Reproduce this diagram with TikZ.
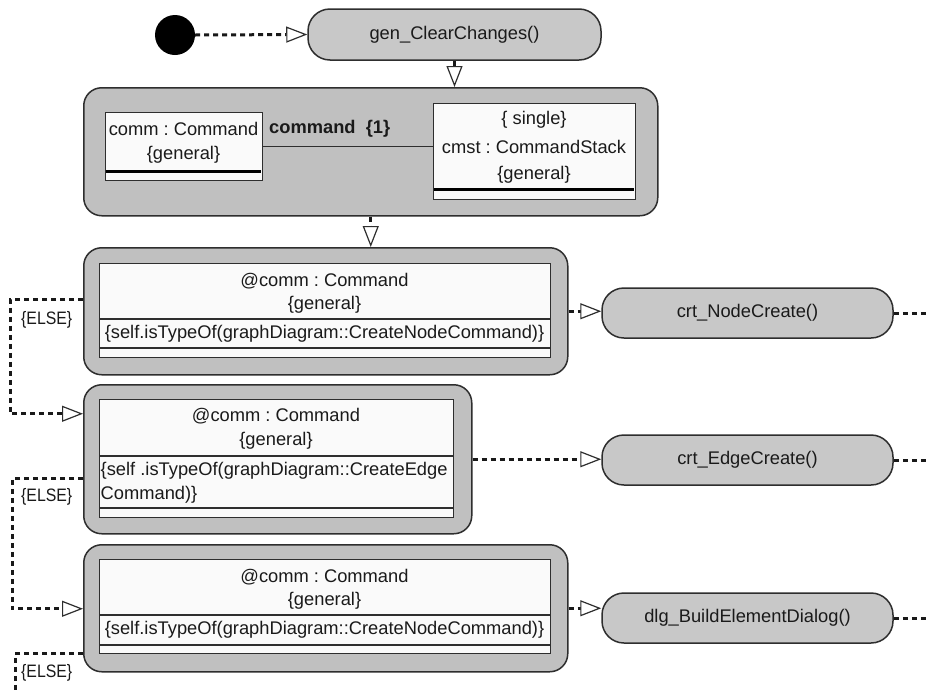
\documentclass[tikz,border=0pt]{standalone}
\usepackage{fontspec}
\setmainfont{Liberation Sans}
\usetikzlibrary{arrows.meta}
\frenchspacing
\definecolor{linec}{HTML}{2E2E2E}
\definecolor{actfill}{HTML}{C8C8C8}
\definecolor{regfill}{HTML}{C0C0C0}
\definecolor{objfill}{HTML}{FAFAFA}
\definecolor{textc}{HTML}{1A1A1A}
\newcommand{\elsemark}{\scalebox{0.88}[1]{\{ELSE\}}}
\tikzset{
  flow/.style={draw=black!90, line width=3pt, dash pattern=on 5pt off 4pt,
    -{Triangle[length=21pt,width=16pt,fill=white,line width=1.2pt,color=linec]}},
  flowend/.style={draw=black!90, line width=3pt, dash pattern=on 5pt off 4pt},
  action/.style={draw=linec, line width=1.5pt, fill=actfill, rounded corners=22pt,
    minimum width=291pt, minimum height=50pt, inner sep=0pt, text=textc,
    font=\fontsize{18.3}{22}\selectfont},
  region/.style={draw=linec, line width=1.5pt, fill=regfill, rounded corners=18pt,
    inner sep=0pt, anchor=north west},
  objbox/.style={draw=linec, line width=1.3pt, fill=objfill, inner sep=0pt, anchor=north west},
  txt/.style={inner sep=0pt, text=textc, font=\fontsize{18.3}{22}\selectfont},
  boldtxt/.style={inner sep=0pt, text=textc, font=\fontsize{18.3}{22}\selectfont\bfseries},
  elsetxt/.style={inner sep=0pt, text=textc, anchor=west, font=\fontsize{18}{20}\selectfont},
  sep/.style={draw=linec, line width=1.2pt},
  heavy/.style={draw=black, line width=3pt},
  link/.style={draw=linec, line width=1.3pt}
}
\begin{document}
\begin{tikzpicture}[x=1pt,y=-1pt]
\useasboundingbox[fill=white] (0,0) rectangle (928,691);

% initial state and first action
\node[circle, fill=black, minimum size=40pt, inner sep=0pt] (start) at (175,35) {};
\node[action, minimum width=293pt, minimum height=51pt] (gen) at (454.5,34.5) {gen\_ClearChanges()};

% story pattern with the command link
\node[region, minimum width=574pt, minimum height=128pt] (b1) at (83,87) {};
\node[objbox, minimum width=157pt, minimum height=68pt] (c1) at (105,112) {};
\node[txt] (c1a) at (183.5,129) {comm : Command};
\node[txt] (c1b) at (183.5,155) {\{general\}};
\draw[heavy] (105.6,171) -- (261.4,171);
\node[objbox, minimum width=202pt, minimum height=96pt] (c2) at (433,103) {};
\node[txt] (c2a) at (534,120) {\{ single\}};
\node[txt] (c2b) at (534,147) {cmst : CommandStack};
\node[txt] (c2c) at (534,175) {\{general\}};
\draw[heavy] (433.6,189) -- (634.4,189);
\draw[link] (c1.east) -- (c1.east -| c2.west);
\node[boldtxt, anchor=west] (lbl) at (269,129) {command\ \ \{1\}};

% first type check
\node[region, minimum width=484pt, minimum height=127pt] (b2) at (83,247) {};
\node[objbox, minimum width=451pt, minimum height=94pt] (o2) at (99,263) {};
\node[txt] (o2a) at (324.5,281) {@comm : Command};
\node[txt] (o2b) at (324.5,305) {\{general\}};
\draw[sep] (99,319) -- (550,319);
\node[txt] (o2c) at (324.5,334) {\{self.isTypeOf(graphDiagram::CreateNodeCommand)\}};
\draw[sep] (99,348) -- (550,348);

% second type check
\node[region, minimum width=388pt, minimum height=149pt] (b3) at (83,384) {};
\node[objbox, minimum width=354pt, minimum height=118pt] (o3) at (99,399) {};
\node[txt] (o3a) at (276,416) {@comm : Command};
\node[txt] (o3b) at (276,441) {\{general\}};
\draw[sep] (99,456) -- (453,456);
\node[txt, anchor=west] (o3c) at (100.5,471) {\{self .isTypeOf(graphDiagram::CreateEdge};
\node[txt, anchor=west] (o3d) at (100.5,495) {Command)\}};
\draw[sep] (99,508) -- (453,508);

% third type check
\node[region, minimum width=484pt, minimum height=127pt] (b4) at (83,544) {};
\node[objbox, minimum width=451pt, minimum height=94pt] (o4) at (99,559) {};
\node[txt] (o4a) at (324.5,577) {@comm : Command};
\node[txt] (o4b) at (324.5,601) {\{general\}};
\draw[sep] (99,615) -- (550,615);
\node[txt] (o4c) at (324.5,630) {\{self.isTypeOf(graphDiagram::CreateNodeCommand)\}};
\draw[sep] (99,645) -- (550,645);

% actions on the right
\node[action] (nc) at (747.5,313) {crt\_NodeCreate()};
\node[action] (ec) at (747.5,460) {crt\_EdgeCreate()};
\node[action] (dlg) at (747.5,618) {dlg\_BuildElementDialog()};

% free ends leaving the drawing
\coordinate (out1) at (928,313);
\coordinate (out2) at (928,460);
\coordinate (out3) at (928,618);
\coordinate (down3) at (15,691);

% control flow
\draw[flow] (start.east) -- (gen.west);
\draw[flow] (gen.south) -- (gen.south |- b1.north);
\draw[flow] (b1.south) -- (b1.south |- b2.north);
\draw[flow] (b2.east) -- (b2.east -| nc.west);
\draw[flow] (b3.east) -- (b3.east -| ec.west);
\draw[flow] (b4.east) -- (b4.east -| dlg.west);
\draw[flowend] (nc.east) -- (out1);
\draw[flowend] (ec.east) -- (out2);
\draw[flowend] (dlg.east) -- (out3);

% else branches
\draw[flow] ([yshift=11.5pt]b2.west) -- ++(-73pt,0) |- ([yshift=45.5pt]b3.west);
\draw[flow] ([yshift=-19.5pt]b3.west) -- ++(-71pt,0) |- ([yshift=-0.5pt]b4.west);
\draw[flowend] ([yshift=-45.5pt]b4.west) -- ++(-68pt,0) -- (down3);
\node[elsetxt] (else1) at (21,320) {\elsemark};
\node[elsetxt] (else2) at (21,497) {\elsemark};
\node[elsetxt] (else3) at (21,673) {\elsemark};
\end{tikzpicture}
\end{document}
